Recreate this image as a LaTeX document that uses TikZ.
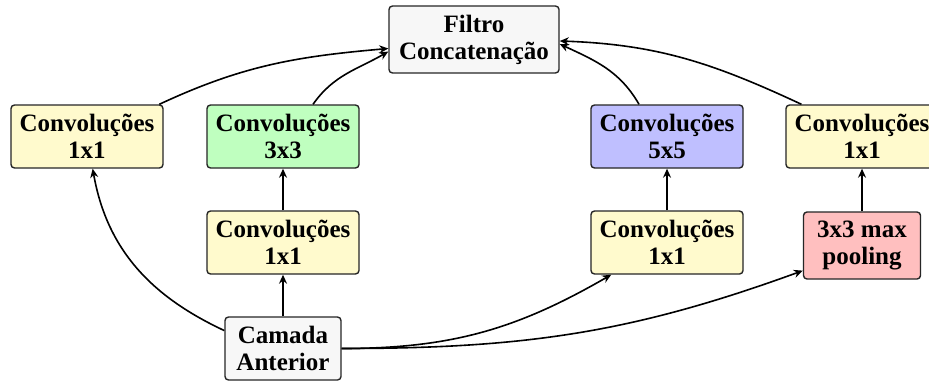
\documentclass[tikz,border=0pt]{standalone}
\usepackage{fontspec}
\setmainfont{Liberation Serif}
\usetikzlibrary{arrows.meta}
\definecolor{boxgray}{RGB}{247,247,247}
\definecolor{boxyellow}{RGB}{255,250,205}
\definecolor{boxgreen}{RGB}{191,255,191}
\definecolor{boxblue}{RGB}{191,191,255}
\definecolor{boxred}{RGB}{255,191,191}
\begin{document}
\begin{tikzpicture}[x=0.5pt,y=0.5pt,
  layer/.style={draw=black!85, line width=0.7pt, rounded corners=1.75pt,
    align=center, inner sep=0pt, minimum width=76pt, minimum height=31.5pt,
    font=\bfseries\fontsize{12.5}{13.5}\selectfont},
  arr/.style={-{Stealth[length=4.5pt,width=4pt]}, line width=0.8pt}]
\clip (0,0) rectangle (929,-385);
\fill[white] (0,0) rectangle (929,-385);

% blocks of the inception module
\node[layer, fill=boxgray, minimum width=85pt, minimum height=33.5pt] (filtro) at (474,-39.5) {Filtro\\Concatenação};
\node[layer, fill=boxyellow] (c11) at (87,-136.5) {Convoluções\\1x1};
\node[layer, fill=boxgreen]  (c33) at (283,-136.5) {Convoluções\\3x3};
\node[layer, fill=boxblue]   (c55) at (667,-136.5) {Convoluções\\5x5};
\node[layer, fill=boxyellow] (cp)  at (862,-136.5) {Convoluções\\1x1};
\node[layer, fill=boxyellow] (r33) at (283,-242.5) {Convoluções\\1x1};
\node[layer, fill=boxyellow] (r55) at (667,-242.5) {Convoluções\\1x1};
\node[layer, fill=boxred, minimum width=58.5pt, minimum height=33.5pt] (pool) at (862,-245.5) {3x3 max\\pooling};
\node[layer, fill=boxgray, minimum width=58pt] (prev) at (283,-348.5) {Camada\\Anterior};

% input branches
\draw[arr] (prev.163) to[out=155,in=-80] (c11.-80);
\draw[arr] (prev.north) -- (r33.south);
\draw[arr] (prev.east) to[out=0,in=-150] (r55.-150);
\draw[arr] (prev.east) to[out=0,in=-160] (pool.-157);

% inner connections
\draw[arr] (r33.north) -- (c33.south);
\draw[arr] (r55.north) -- (c55.south);
\draw[arr] (pool.north) -- (cp.south);

% outputs to the concatenation
\draw[arr] (c11.24) to[out=25,in=-175] (filtro.186);
\draw[arr] (c33.47) to[out=55,in=-150] (filtro.188);
\draw[arr] (c55.131) to[out=120,in=-25] (filtro.-3);
\draw[arr] (cp.152) to[out=155,in=-2] (filtro.-1);
\end{tikzpicture}
\end{document}
